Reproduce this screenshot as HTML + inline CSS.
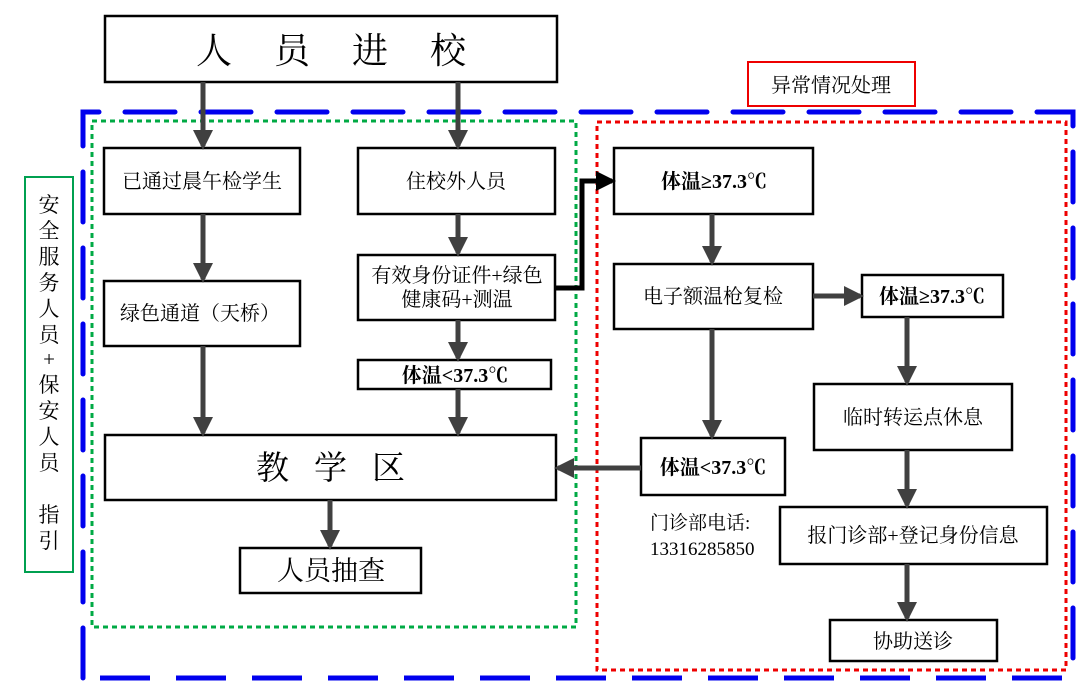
<!DOCTYPE html>
<html><head><meta charset="utf-8"><style>
html,body{margin:0;padding:0;background:#fff;width:1080px;height:685px;overflow:hidden}
text{font-family:"Liberation Serif","Noto Serif CJK SC",serif;fill:#000}
</style></head><body>
<svg width="1080" height="685" viewBox="0 0 1080 685" xmlns="http://www.w3.org/2000/svg">
<defs>
<marker id="ah" markerWidth="4" markerHeight="4" refX="3.2" refY="2" orient="auto" markerUnits="strokeWidth">
<path d="M0,0 L4,2 L0,4 Z" fill="#404040"/></marker>
<marker id="ahb" markerWidth="4" markerHeight="4" refX="3.2" refY="2" orient="auto" markerUnits="strokeWidth">
<path d="M0,0 L4,2 L0,4 Z" fill="#000"/></marker>
</defs>
<path d="M83,678 L83,112 L1073,112 L1073,678" fill="none" stroke="#0000ee" stroke-width="5" stroke-dasharray="50,26" stroke-linecap="round"/>
<line x1="100" y1="678" x2="1073" y2="678" stroke="#0000ee" stroke-width="5" stroke-dasharray="50,26"/>
<rect x="92" y="121" width="484" height="506" fill="none" stroke="#00aa44" stroke-width="3" stroke-dasharray="5,4"/>
<rect x="597" y="122" width="469" height="548" fill="none" stroke="#ee0000" stroke-width="3" stroke-dasharray="5,4"/>
<rect x="748" y="62" width="167" height="44" fill="#fff" stroke="#e00" stroke-width="2"/>
<text x="831" y="92" font-size="20" text-anchor="middle">异常情况处理</text>
<rect x="25" y="177" width="48" height="395" fill="#fff" stroke="#00a050" stroke-width="2"/>
<g font-size="21" text-anchor="middle">
<text x="49" y="212">安</text><text x="49" y="238">全</text><text x="49" y="264">服</text><text x="49" y="290">务</text><text x="49" y="316">人</text><text x="49" y="342">员</text><text x="49" y="366">+</text><text x="49" y="392">保</text><text x="49" y="418">安</text><text x="49" y="444">人</text><text x="49" y="470">员</text><text x="49" y="522">指</text><text x="49" y="548">引</text>
</g>
<g fill="#fff" stroke="#000" stroke-width="2.5">
<rect x="105" y="16" width="452" height="66"/>
<rect x="104" y="148" width="196" height="66"/>
<rect x="358" y="148" width="197" height="66"/>
<rect x="104" y="281" width="196" height="65"/>
<rect x="358" y="255" width="197" height="65"/>
<rect x="358" y="360" width="193" height="29"/>
<rect x="105" y="435" width="451" height="65"/>
<rect x="240" y="548" width="181" height="45"/>
<rect x="614" y="148" width="199" height="66"/>
<rect x="614" y="264" width="199" height="65"/>
<rect x="862" y="275" width="141" height="42"/>
<rect x="814" y="384" width="198" height="66"/>
<rect x="641" y="438" width="144" height="57"/>
<rect x="780" y="507" width="267" height="57"/>
<rect x="830" y="620" width="167" height="41"/>
</g>
<g stroke="#404040" stroke-width="5" fill="none" marker-end="url(#ah)">
<line x1="203" y1="82" x2="203" y2="146"/>
<line x1="458" y1="82" x2="458" y2="146"/>
<line x1="203" y1="214" x2="203" y2="279"/>
<line x1="458" y1="214" x2="458" y2="253"/>
<line x1="458" y1="320" x2="458" y2="358"/>
<line x1="203" y1="346" x2="203" y2="433"/>
<line x1="458" y1="389" x2="458" y2="433"/>
<line x1="330" y1="500" x2="330" y2="546"/>
<line x1="712" y1="214" x2="712" y2="262"/>
<line x1="813" y1="296" x2="860" y2="296"/>
<line x1="907" y1="317" x2="907" y2="382"/>
<line x1="712" y1="329" x2="712" y2="436"/>
<line x1="907" y1="450" x2="907" y2="505"/>
<line x1="907" y1="564" x2="907" y2="618"/>
<line x1="641" y1="468" x2="558" y2="468"/>
</g>
<path d="M555,288 L582,288 L582,181 L612,181" fill="none" stroke="#000" stroke-width="5" marker-end="url(#ahb)"/>
<text x="352" y="63" font-size="36" text-anchor="middle" letter-spacing="42">人员进校</text>
<g font-size="20" text-anchor="middle">
<text x="202" y="188">已通过晨午检学生</text>
<text x="456" y="188">住校外人员</text>
<text x="200" y="320">绿色通道（天桥）</text>
<text x="457" y="282">有效身份证件+绿色</text>
<text x="457" y="306">健康码+测温</text>
<text x="455" y="382" font-weight="bold">体温&lt;37.3℃</text>
<text x="714" y="188" font-weight="bold">体温≥37.3℃</text>
<text x="713" y="303">电子额温枪复检</text>
<text x="932" y="303" font-weight="bold">体温≥37.3℃</text>
<text x="913" y="424">临时转运点休息</text>
<text x="713" y="474" font-weight="bold">体温&lt;37.3℃</text>
<text x="913" y="542">报门诊部+登记身份信息</text>
<text x="913" y="648">协助送诊</text>
</g>
<text x="343" y="479" font-size="33" text-anchor="middle" letter-spacing="25">教学区</text>
<text x="331" y="580" font-size="27" text-anchor="middle">人员抽查</text>
<text x="650" y="529" font-size="19">门诊部电话:</text>
<text x="650" y="555" font-size="19">13316285850</text>
</svg>
</body></html>
